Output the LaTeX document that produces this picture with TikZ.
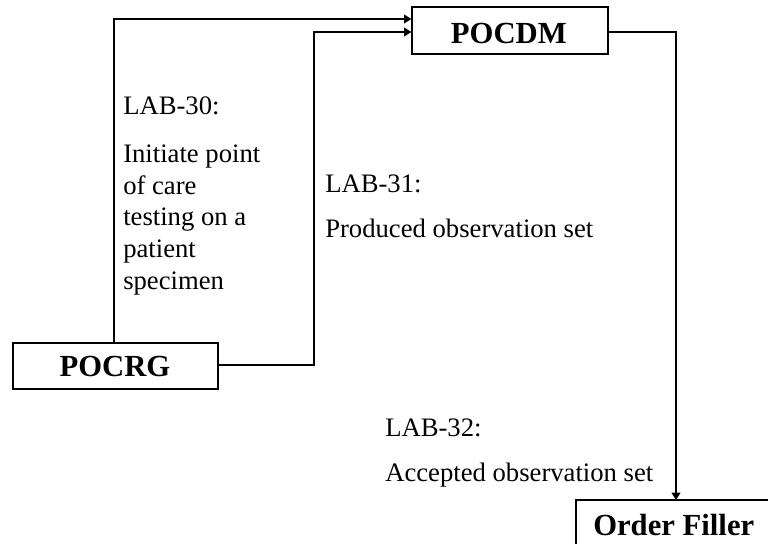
\documentclass[tikz,border=0pt]{standalone}
\usepackage{fontspec}
\setmainfont{Liberation Serif}
\usetikzlibrary{arrows.meta}

\begin{document}
\begin{tikzpicture}[x=0.75pt,y=-0.75pt,
  actor/.style={draw=black,line width=0.9pt},
  title/.style={font=\fontsize{23}{27}\selectfont\bfseries,inner sep=0pt,anchor=base west},
  lbl/.style={font=\fontsize{20}{24}\selectfont,inner sep=0pt,anchor=base west},
  flow/.style={line width=1.6pt,-{Triangle[length=5.5pt,width=6.5pt]}},
  link/.style={line width=1.6pt}]
  \useasboundingbox (0,0) rectangle (768,543);
  \clip (0,0) rectangle (768,543);

  % actor boxes
  \node[actor,minimum width=196*0.75pt,minimum height=47*0.75pt,inner sep=0pt] (pocdm) at (510,30.5) {};
  \node[actor,minimum width=205*0.75pt,minimum height=46*0.75pt,inner sep=0pt] (pocrg) at (115.5,366) {};
  \draw[actor] (790,560) -- (576,560) -- (576,500) coordinate (of) -- (790,500);

  \node[title] at (450.7,43) {POCDM};
  \node[title] at (59.3,376.7) {POCRG};
  \node[title] at (593,535) {Order Filler};

  % transactions
  \coordinate (a1) at (114,19);
  \coordinate (b1) at (314,32);
  \coordinate (b2) at (314,365);
  \coordinate (c1) at (676,32);
  \draw[flow] (pocrg.north -| a1) -- (a1) -- (a1 -| pocdm.west);
  \draw[flow] (pocrg.east |- b2) -- (b2) -- (b1) -- (b1 -| pocdm.west);
  \draw[flow] (pocdm.east |- c1) -- (c1) -- (c1 |- of);

  % transaction labels
  \node[lbl] at (123,114.3) {LAB-30:};
  \foreach \t [count=\i from 0] in {Initiate point,of care,testing on a,patient,specimen}
    \node[lbl] (d\i) at (123,162.3+31.8*\i) {\t};
  \node[lbl] at (325,192.8) {LAB-31:};
  \node[lbl] at (325,237) {Produced observation set};
  \node[lbl] at (385,436) {LAB-32:};
  \node[lbl] at (385,481) {Accepted observation set};
\end{tikzpicture}
\end{document}
